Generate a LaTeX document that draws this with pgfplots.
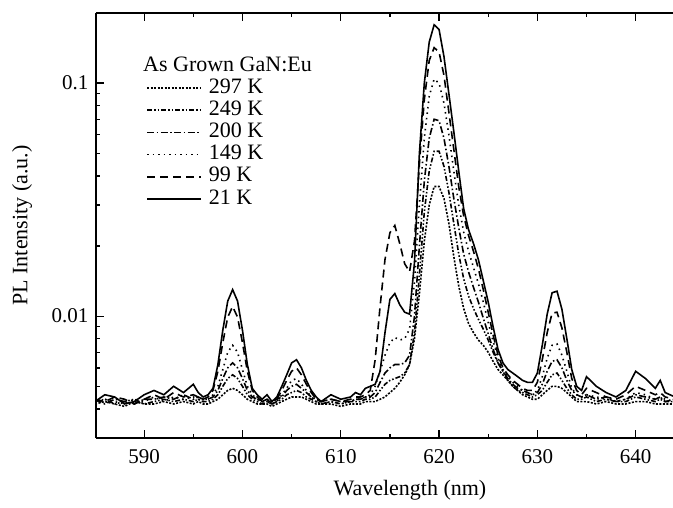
\documentclass[border=0pt]{standalone}
\usepackage{fontspec}
\setmainfont{Liberation Serif}
\usepackage{pgfplots}
\pgfplotsset{compat=1.18}
\begin{document}
\begin{tikzpicture}
\begin{axis}[
  width=577pt, height=425pt, scale only axis,
  xmin=585.1, xmax=643.8, ymin=0.003, ymax=0.2,
  ymode=log, log ticks with fixed point,
  /pgf/number format/assume math mode=true,
  xtick={590,600,...,640}, minor x tick num=1,
  axis x line*=box, axis y line*=left,
  axis line style={-, line width=1.6pt},
  tick align=inside,
  major tick length=8pt, minor tick length=4pt,
  every tick/.style={black, line width=1.3pt},
  tick label style={font=\fontsize{21}{21}\selectfont},
  xticklabel style={yshift=-8pt},
  yticklabel style={xshift=-4pt},
  xlabel={Wavelength (nm)},
  ylabel={PL Intensity (a.u.)},
  label style={font=\fontsize{22}{22}\selectfont},
  xlabel style={at={(axis description cs:0.544,-0.122)}, anchor=center},
  ylabel style={at={(axis description cs:-0.128,0.5)}, anchor=center},
  legend image code/.code={\draw[#1] (0pt,0pt) -- (54pt,0pt);},
  legend style={at={(axis description cs:0.0815,0.852)}, anchor=north west,
    draw=none, fill=none, font=\fontsize{22}{22}\selectfont,
    row sep=2.2pt, column sep=7pt,
    nodes={inner sep=0pt, text height=15pt, text depth=5pt}},
  legend cell align=left,
  every axis plot/.append style={line width=1.6pt, black},
]
% 297 K
\addplot[dash pattern=on 2pt off 1.5pt] coordinates {
(585,0.0042)(586,0.0043)(587,0.0042)(588,0.0041)(589,0.0043)(590,0.0042)(591,0.0042)(592,0.0043)(593,0.0042)(594,0.0043)(595,0.0042)(595.5,0.0043)
(596,0.0042)(596.5,0.0042)(597,0.0043)(597.5,0.0044)(598,0.0046)(598.5,0.0048)(599,0.0049)(599.5,0.0048)(600,0.0046)(600.5,0.0044)(601,0.0043)(601.5,0.0042)(602,0.0042)(602.5,0.0042)(603,0.0041)
(603.5,0.0042)(604,0.0043)(604.5,0.0044)(605,0.0045)(605.5,0.0045)(606,0.0045)(606.5,0.0044)(607,0.0043)(607.5,0.0042)(608,0.0042)(609,0.0042)(610,0.0041)(611,0.0042)(611.5,0.0042)
(612,0.0042)(612.5,0.0043)(613,0.0043)(613.5,0.0043)(614,0.0044)(614.5,0.0045)(615,0.0047)(615.5,0.0049)(616,0.0052)(616.5,0.0056)(617,0.0062)(617.5,0.0080)(618,0.0125)(618.5,0.021)(619,0.030)(619.5,0.036)(620,0.036)(620.5,0.032)(621,0.025)(621.5,0.018)(622,0.0135)(622.5,0.0108)(623,0.0093)(623.5,0.0085)(624,0.0079)(624.5,0.0075)(625,0.0070)(625.5,0.0064)(626,0.0059)(626.5,0.0056)(627,0.0053)(627.5,0.0050)(628,0.0048)(628.5,0.0046)(629,0.0045)
(629.5,0.0044)(630,0.0044)(630.5,0.0046)(631,0.0048)(631.5,0.0050)(632,0.0050)(632.5,0.0049)(633,0.0047)(633.5,0.0045)(634,0.0043)(634.5,0.0043)(635,0.0043)(636,0.0042)(637,0.0043)(638,0.0042)(639,0.0042)(640,0.0043)(641,0.0043)(642,0.0042)(642.5,0.0042)(643,0.0042)(644,0.0042)
};
\addlegendentry{297 K}
% 249 K
\addplot[dash pattern=on 5pt off 2pt on 1.5pt off 2pt on 1.5pt off 2pt] coordinates {
(585,0.0043)(586,0.0044)(587,0.0042)(588,0.0043)(589,0.0044)(590,0.0042)(591,0.0043)(592,0.0044)(593,0.0043)(594,0.0044)(595,0.0043)(595.5,0.0044)
(596,0.0043)(596.5,0.0043)(597,0.0044)(597.5,0.0046)(598,0.0050)(598.5,0.0054)(599,0.0056)(599.5,0.0054)(600,0.0050)(600.5,0.0046)(601,0.0044)(601.5,0.0043)(602,0.0042)(602.5,0.0043)(603,0.0042)
(603.5,0.0043)(604,0.0044)(604.5,0.0046)(605,0.0047)(605.5,0.0048)(606,0.0047)(606.5,0.0045)(607,0.0044)(607.5,0.0043)(608,0.0042)(609,0.0043)(610,0.0042)(611,0.0043)(611.5,0.0043)
(612,0.0043)(612.5,0.0044)(613,0.0044)(613.5,0.0045)(614,0.0048)(614.5,0.0051)(615,0.0053)(615.5,0.0054)(616,0.0055)(616.5,0.0057)(617,0.0062)(617.5,0.0085)(618,0.015)(618.5,0.028)(619,0.042)(619.5,0.051)(620,0.051)(620.5,0.044)(621,0.034)(621.5,0.025)(622,0.0185)(622.5,0.0145)(623,0.0122)(623.5,0.0108)(624,0.0097)(624.5,0.0088)(625,0.0079)(625.5,0.0070)(626,0.0063)(626.5,0.0058)(627,0.0053)(627.5,0.0050)(628,0.0048)(628.5,0.0047)(629,0.0046)
(629.5,0.0045)(630,0.0046)(630.5,0.0048)(631,0.0052)(631.5,0.0056)(632,0.0057)(632.5,0.0053)(633,0.0049)(633.5,0.0046)(634,0.0044)(634.5,0.0044)(635,0.0045)(636,0.0043)(637,0.0044)(638,0.0043)(639,0.0043)(640,0.0045)(641,0.0044)(642,0.0043)(642.5,0.0044)(643,0.0043)(644,0.0043)
};
\addlegendentry{249 K}
% 200 K
\addplot[dash pattern=on 7pt off 2.5pt on 1.5pt off 2.5pt] coordinates {
(585,0.0044)(586,0.0042)(587,0.0044)(588,0.0043)(589,0.0042)(590,0.0044)(591,0.0044)(592,0.0045)(593,0.0044)(594,0.0046)(595,0.0044)(595.5,0.0045)
(596,0.0044)(596.5,0.0044)(597,0.0045)(597.5,0.0048)(598,0.0054)(598.5,0.0060)(599,0.0063)(599.5,0.0060)(600,0.0054)(600.5,0.0048)(601,0.0045)(601.5,0.0044)(602,0.0043)(602.5,0.0044)(603,0.0043)
(603.5,0.0044)(604,0.0045)(604.5,0.0048)(605,0.0050)(605.5,0.0051)(606,0.0049)(606.5,0.0047)(607,0.0045)(607.5,0.0044)(608,0.0043)(609,0.0044)(610,0.0043)(611,0.0043)(611.5,0.0044)
(612,0.0044)(612.5,0.0045)(613,0.0045)(613.5,0.0047)(614,0.0052)(614.5,0.0057)(615,0.0060)(615.5,0.0062)(616,0.0062)(616.5,0.0063)(617,0.0068)(617.5,0.010)(618,0.020)(618.5,0.038)(619,0.058)(619.5,0.070)(620,0.069)(620.5,0.058)(621,0.044)(621.5,0.032)(622,0.024)(622.5,0.0185)(623,0.0155)(623.5,0.0133)(624,0.0115)(624.5,0.0098)(625,0.0084)(625.5,0.0072)(626,0.0063)(626.5,0.0058)(627,0.0054)(627.5,0.0051)(628,0.0049)(628.5,0.0048)(629,0.0047)
(629.5,0.0046)(630,0.0047)(630.5,0.0051)(631,0.0058)(631.5,0.0064)(632,0.0065)(632.5,0.0060)(633,0.0053)(633.5,0.0048)(634,0.0046)(634.5,0.0045)(635,0.0046)(636,0.0044)(637,0.0045)(638,0.0043)(639,0.0044)(640,0.0046)(641,0.0045)(642,0.0044)(642.5,0.0045)(643,0.0043)(644,0.0044)
};
\addlegendentry{200 K}
% 149 K
\addplot[dash pattern=on 1.5pt off 4pt] coordinates {
(585,0.0042)(586,0.0044)(587,0.0043)(588,0.0042)(589,0.0044)(590,0.0043)(591,0.0045)(592,0.0043)(593,0.0045)(594,0.0044)(595,0.0045)(595.5,0.0044)
(596,0.0043)(596.5,0.0044)(597,0.0046)(597.5,0.0050)(598,0.0059)(598.5,0.0070)(599,0.0075)(599.5,0.0070)(600,0.0059)(600.5,0.0050)(601,0.0046)(601.5,0.0044)(602,0.0043)(602.5,0.0043)(603,0.0042)
(603.5,0.0043)(604,0.0046)(604.5,0.0049)(605,0.0053)(605.5,0.0054)(606,0.0051)(606.5,0.0048)(607,0.0045)(607.5,0.0043)(608,0.0042)(609,0.0043)(610,0.0042)(611,0.0043)(611.5,0.0044)
(612,0.0044)(612.5,0.0045)(613,0.0046)(613.5,0.0050)(614,0.0058)(614.5,0.0068)(615,0.0077)(615.5,0.0081)(616,0.0079)(616.5,0.0080)(617,0.0088)(617.5,0.014)(618,0.030)(618.5,0.058)(619,0.088)(619.5,0.104)(620,0.100)(620.5,0.082)(621,0.060)(621.5,0.042)(622,0.030)(622.5,0.023)(623,0.0190)(623.5,0.0162)(624,0.0138)(624.5,0.0115)(625,0.0094)(625.5,0.0078)(626,0.0066)(626.5,0.0059)(627,0.0055)(627.5,0.0052)(628,0.0050)(628.5,0.0048)(629,0.0047)
(629.5,0.0046)(630,0.0048)(630.5,0.0055)(631,0.0066)(631.5,0.0075)(632,0.0076)(632.5,0.0068)(633,0.0058)(633.5,0.0049)(634,0.0046)(634.5,0.0045)(635,0.0046)(636,0.0045)(637,0.0044)(638,0.0043)(639,0.0044)(640,0.0047)(641,0.0046)(642,0.0044)(642.5,0.0045)(643,0.0044)(644,0.0043)
};
\addlegendentry{149 K}
% 99 K
\addplot[dash pattern=on 8pt off 5pt] coordinates {
(585,0.0044)(586,0.0043)(587,0.0045)(588,0.0044)(589,0.0042)(590,0.0044)(591,0.0046)(592,0.0044)(593,0.0047)(594,0.0045)(595,0.0046)(595.5,0.0045)
(596,0.0044)(596.5,0.0045)(597,0.0048)(597.5,0.0058)(598,0.0077)(598.5,0.0099)(599,0.0110)(599.5,0.0099)(600,0.0077)(600.5,0.0058)(601,0.0048)(601.5,0.0045)(602,0.0043)(602.5,0.0044)(603,0.0042)
(603.5,0.0044)(604,0.0048)(604.5,0.0053)(605,0.0058)(605.5,0.0060)(606,0.0056)(606.5,0.0051)(607,0.0047)(607.5,0.0044)(608,0.0043)(609,0.0044)(610,0.0043)(611,0.0044)(611.5,0.0045)
(612,0.0045)(612.5,0.0046)(613,0.0048)(613.5,0.0065)(614,0.0110)(614.5,0.0175)(615,0.0228)(615.5,0.0245)(616,0.0205)(616.5,0.0168)(617,0.0155)(617.5,0.021)(618,0.045)(618.5,0.085)(619,0.125)(619.5,0.142)(620,0.136)(620.5,0.108)(621,0.075)(621.5,0.052)(622,0.036)(622.5,0.027)(623,0.0222)(623.5,0.0190)(624,0.0160)(624.5,0.0130)(625,0.0104)(625.5,0.0083)(626,0.0068)(626.5,0.0060)(627,0.0056)(627.5,0.0053)(628,0.0051)(628.5,0.0049)(629,0.0048)
(629.5,0.0048)(630,0.0052)(630.5,0.0065)(631,0.0085)(631.5,0.0103)(632,0.0104)(632.5,0.0089)(633,0.0070)(633.5,0.0054)(634,0.0048)(634.5,0.0046)(635,0.0049)(636,0.0047)(637,0.0045)(638,0.0044)(639,0.0046)(640,0.0050)(641,0.0048)(642,0.0046)(642.5,0.0047)(643,0.0045)(644,0.0044)
};
\addlegendentry{99 K}
% 21 K
\addplot[solid] coordinates {
(585,0.0043)(586,0.0046)(587,0.0045)(588,0.0042)(589,0.0043)(590,0.0046)(591,0.0048)(592,0.0046)(593,0.0050)(594,0.0047)(595,0.0051)(595.5,0.0047)
(596,0.0045)(596.5,0.0046)(597,0.0049)(597.5,0.0062)(598,0.0087)(598.5,0.0116)(599,0.0130)(599.5,0.0116)(600,0.0087)(600.5,0.0062)(601,0.0049)(601.5,0.0046)(602,0.0044)(602.5,0.0046)(603,0.0043)
(603.5,0.0045)(604,0.0050)(604.5,0.0056)(605,0.0063)(605.5,0.0065)(606,0.0060)(606.5,0.0053)(607,0.0048)(607.5,0.0045)(608,0.0043)(609,0.0046)(610,0.0044)(611,0.0045)(611.5,0.0047)
(612,0.0046)(612.5,0.0049)(613,0.0050)(613.5,0.0051)(614,0.0058)(614.5,0.0085)(615,0.0118)(615.5,0.0125)(616,0.0112)(616.5,0.0104)(617,0.0102)(617.5,0.017)(618,0.050)(618.5,0.100)(619,0.150)(619.5,0.178)(620,0.170)(620.5,0.130)(621,0.090)(621.5,0.062)(622,0.042)(622.5,0.029)(623,0.0235)(623.5,0.0205)(624,0.0175)(624.5,0.0142)(625,0.0115)(625.5,0.0090)(626,0.0072)(626.5,0.0063)(627,0.0059)(627.5,0.0057)(628,0.0055)(628.5,0.0053)(629,0.0052)
(629.5,0.0052)(630,0.0057)(630.5,0.0075)(631,0.0102)(631.5,0.0126)(632,0.0128)(632.5,0.0107)(633,0.0080)(633.5,0.0059)(634,0.0050)(634.5,0.0048)(635,0.0055)(636,0.0050)(637,0.0047)(638,0.0045)(639,0.0048)(640,0.0058)(641,0.0054)(642,0.0049)(642.5,0.0053)(643,0.0047)(644,0.0045)
};
\addlegendentry{21 K}
\node[anchor=base west, inner sep=0pt, font=\fontsize{22}{22}\selectfont] at (axis description cs:0.0815,0.8635) {As Grown GaN:Eu};
\end{axis}
\pgfresetboundingbox
\path[use as bounding box] (-96pt,-70pt) rectangle (577pt,438pt);
\end{tikzpicture}
\end{document}
